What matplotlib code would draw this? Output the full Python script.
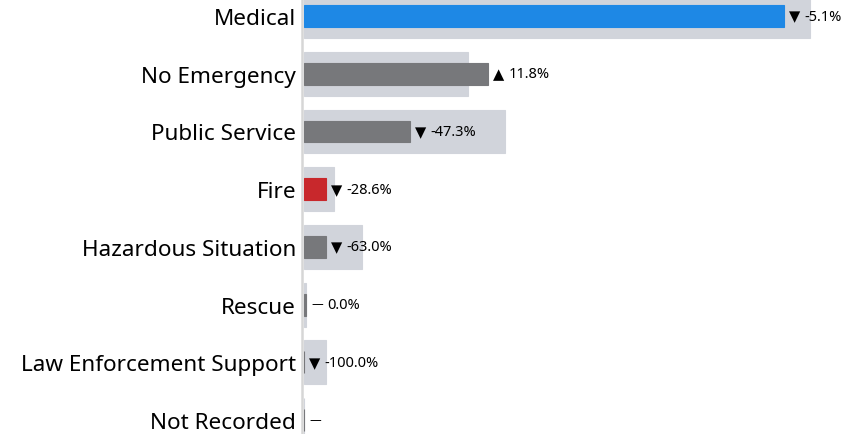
import numpy as np
import matplotlib
matplotlib.use("Agg")
import matplotlib.pyplot as plt

CATEGORIES = [
    "Medical",
    "No Emergency",
    "Public Service",
    "Fire",
    "Hazardous Situation",
    "Rescue",
    "Law Enforcement Support",
    "Not Recorded",
]
CURRENT = [222, 85, 49, 10, 10, 1, 0, 0]
PRIOR = [234, 76, 93, 14, 27, 1, 10, 0]
BAR_COLORS = ["#1e88e5", "#77787b", "#77787b", "#c8282c", "#77787b", "#77787b", "#77787b", "#77787b"]

BG_COLOR = "#d1d4db"
AXIS_COLOR = "#d6d6d6"
LABEL_FONT = ["Noto Sans", "DejaVu Sans"]


def change_text(cur, prev):
    if prev == 0:
        return "\u2014", ""
    pct = (cur - prev) / prev * 100.0
    if abs(pct) < 0.05:
        return "\u2014", f"{pct:.1f}%"
    if pct > 0:
        return "\u25b2", f"{pct:.1f}%"
    return "\u25bc", f"{pct:.1f}%"


def main():
    fig = plt.figure(figsize=(8.65, 4.35), dpi=100)
    ax = fig.add_axes([302 / 865, 0, 1 - 302 / 865, 1])

    y = np.arange(len(CATEGORIES))

    ax.barh(y, PRIOR, height=0.76, color=BG_COLOR, edgecolor=BG_COLOR,
            linewidth=0.8, zorder=1)
    ax.barh(y, CURRENT, height=0.38, color=BAR_COLORS, edgecolor=BAR_COLORS,
            linewidth=0.8, zorder=2)

    for i, (cur, prev) in enumerate(zip(CURRENT, PRIOR)):
        symbol, pct = change_text(cur, prev)
        is_dash = symbol == "\u2014"
        ax.annotate(symbol, xy=(cur, i), xytext=(3.8, 0 if not is_dash else 0.5),
                    textcoords="offset points", ha="left", va="center",
                    fontsize=8.5 if is_dash else 10.5, family="DejaVu Sans",
                    color="black", zorder=3)
        if pct:
            ax.annotate(pct, xy=(cur, i), xytext=(15, 0), textcoords="offset points",
                        ha="left", va="center", fontsize=10.5, family=LABEL_FONT,
                        color="black", zorder=3)

    ax.set_xlim(-0.9, 259.5)
    ax.set_ylim(7.24, -0.295)

    ax.set_yticks(y)
    ax.set_yticklabels(CATEGORIES, family=LABEL_FONT, fontsize=16.2)
    ax.tick_params(axis="y", length=0, pad=4.3)
    ax.set_xticks([])

    for side in ["top", "right", "bottom"]:
        ax.spines[side].set_visible(False)
    ax.spines["left"].set_color(AXIS_COLOR)
    ax.spines["left"].set_linewidth(1.8)
    ax.spines["left"].set_zorder(4)

    fig.savefig("out.png", dpi=100)


if __name__ == "__main__":
    main()
